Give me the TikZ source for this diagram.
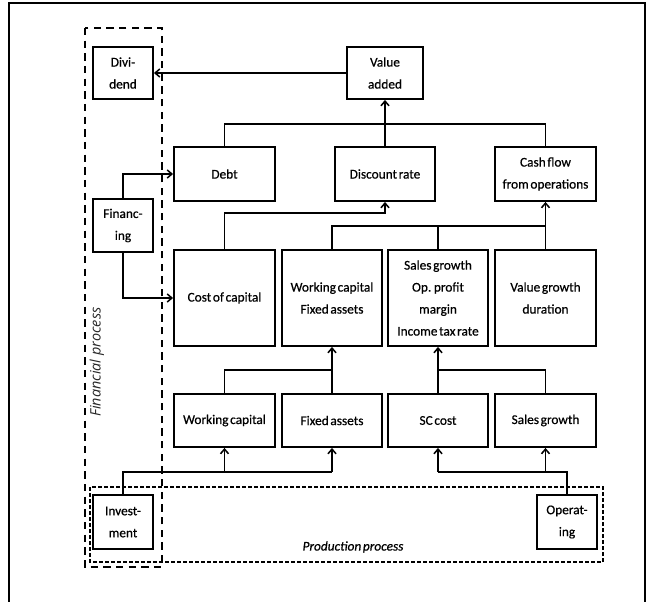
\documentclass[tikz,border=0pt]{standalone}
\usepackage{fontspec}
\setmainfont{Carlito}[WordSpace=0.55,FakeBold=0.6]
\newfontfamily\labfont{Open Sans}
\usetikzlibrary{arrows.meta}
\begin{document}
\begin{tikzpicture}[x=0.75pt,y=-0.75pt,
  box/.style={draw,line width=1.4pt,align=center,inner sep=0pt,
    font=\fontsize{10}{16.5}\selectfont},
  conn/.style={line width=1.15pt},
  arr/.style={conn,-{Straight Barb[length=3.5pt,width=6pt]}},
  fdash/.style={draw,line width=1.2pt,dash pattern=on 5.5pt off 4pt},
  pdash/.style={draw,line width=1pt,dash pattern=on 3pt off 1.5pt}]
\useasboundingbox (0,0) rectangle (656,602);
\begin{scope}
\clip (0,0) rectangle (656,602);
\draw[line width=1.2pt] (9,3) rectangle (645,640);
\end{scope}
% process frames
\draw[fdash] (85,28) rectangle (162,567);
\draw[pdash] (90,487) rectangle (603,562);
\node[font=\labfont\itshape\fontsize{10.8}{12}\selectfont,rotate=90,text=black!85] (flab) at (97,362) {Financial process};
\node[font=\itshape\fontsize{10}{12}\selectfont] (plab) at (353,547) {Production process};
% boxes
\node[box,minimum width=60*0.75pt,minimum height=52*0.75pt] (div) at (123,73) {Divi-\\dend};
\node[box,minimum width=76*0.75pt,minimum height=52*0.75pt] (va) at (385,73) {Value\\added};
\node[box,minimum width=101*0.75pt,minimum height=54*0.75pt] (debt) at (224.5,174) {Debt};
\node[box,minimum width=100*0.75pt,minimum height=54*0.75pt] (dr) at (385,174) {Discount rate};
\node[box,minimum width=101*0.75pt,minimum height=54*0.75pt] (cf) at (545.5,174) {Cash flow\\from operations};
\node[box,minimum width=60*0.75pt,minimum height=53*0.75pt] (fin) at (123,225.5) {Financ-\\ing};
\node[box,minimum width=101*0.75pt,minimum height=96*0.75pt] (coc) at (224.5,298) {Cost of capital};
\node[box,minimum width=100*0.75pt,minimum height=96*0.75pt] (wcfa) at (332,298) {Working capital\\Fixed assets};
\node[box,minimum width=100*0.75pt,minimum height=96*0.75pt] (sg) at (438,298) {Sales growth\\Op. profit\\margin\\Income tax rate};
\node[box,minimum width=101*0.75pt,minimum height=96*0.75pt] (vgd) at (545.5,298) {Value growth\\duration};
\node[box,minimum width=101*0.75pt,minimum height=53*0.75pt] (wc) at (224.5,420.5) {Working capital};
\node[box,minimum width=100*0.75pt,minimum height=53*0.75pt] (fa) at (332,420.5) {Fixed assets};
\node[box,minimum width=100*0.75pt,minimum height=53*0.75pt] (sc) at (438,420.5) {SC cost};
\node[box,minimum width=101*0.75pt,minimum height=53*0.75pt] (sgr) at (545.5,420.5) {Sales growth};
\node[box,minimum width=60*0.75pt,minimum height=54*0.75pt] (inv) at (123,522) {Invest-\\ment};
\node[box,minimum width=60*0.75pt,minimum height=54*0.75pt] (op) at (567,522) {Operat-\\ing};
% connectors
\draw[arr] (va.west) -- (div.east);
\draw[conn] (debt.north) |- (545.5,124) -- (cf.north);
\draw[arr] (dr.north) -- (va.south);
\draw[arr] (fin.north) |- (debt.west);
\draw[arr] (fin.south) |- (coc.west);
\draw[arr] (coc.north) |- (385,213) -- (dr.south);
\draw[conn] (wcfa.north) |- (545.5,226);
\draw[conn] (sg.north) -- (438,226);
\draw[arr] (vgd.north) -- (cf.south);
\draw[conn] (wc.north) |- (332,370);
\draw[arr] (fa.north) -- (wcfa.south);
\draw[arr] (sc.north) -- (sg.south);
\draw[conn] (sgr.north) |- (438,370);
\coordinate (ib) at (332,472);
\draw[conn] (inv.north) |- (ib);
\draw[arr] (224.5,472) -- (wc.south);
\draw[arr] (ib) -- (fa.south);
\coordinate (ob) at (438,472);
\draw[conn] (op.north) |- (ob);
\draw[arr] (ob) -- (sc.south);
\draw[arr] (545.5,472) -- (sgr.south);
\end{tikzpicture}
\end{document}
